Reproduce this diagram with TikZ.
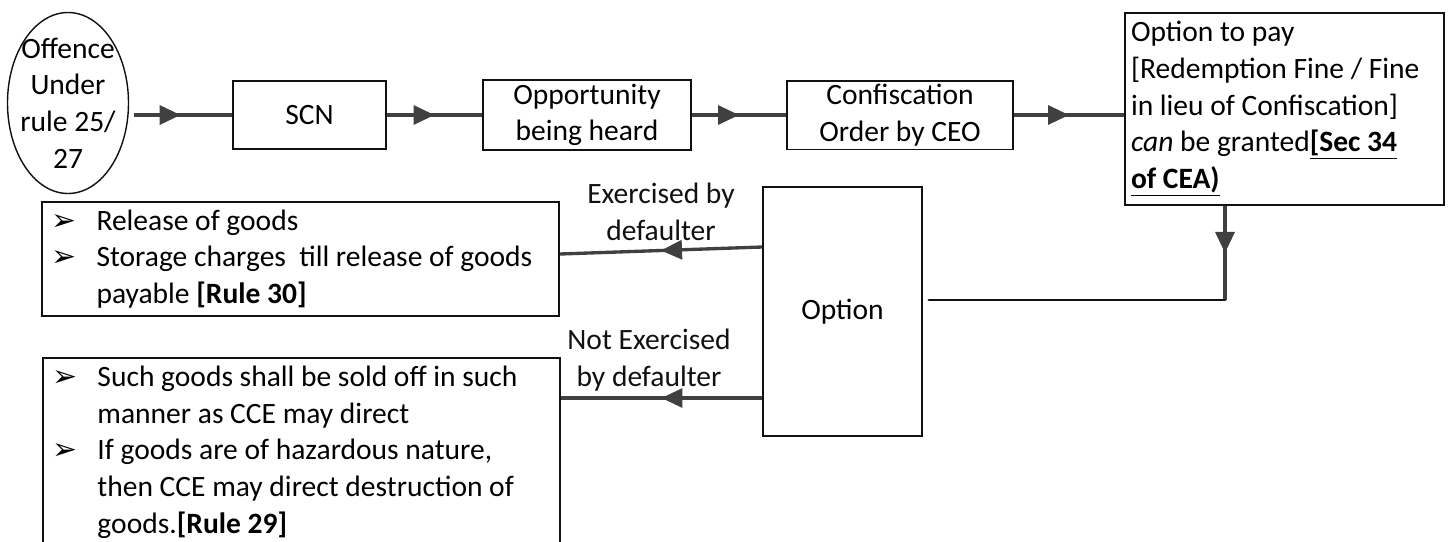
\documentclass[tikz,border=0pt]{standalone}
\usepackage{fontspec}
\setmainfont{Carlito}
\newfontfamily\dingfont{DejaVu Sans}
\usepackage{xcolor}
\usepackage{tikz}
\usetikzlibrary{positioning, arrows.meta, shapes.geometric, decorations.markings}
\definecolor{nInk}{HTML}{111111}
\definecolor{aFlow}{HTML}{404040}
\newcommand{\flowfont}{\fontsize{16.8}{20.9}\selectfont}
\newcommand{\arrowitem}[1]{\hangindent=0.9cm\hangafter=1\noindent
  \makebox[0.9cm][l]{{\dingfont\fontsize{17}{17}\selectfont ➢}}#1\par}
\newenvironment{notelist}{\begin{minipage}{9.96cm}\raggedright}{\end{minipage}}
\tikzset{
  stepbox/.style={draw=nInk, line width=1.1pt, minimum height=1.36cm, inner sep=2pt,
    font=\flowfont, align=center},
  cause/.style={draw=nInk, line width=0.8pt, ellipse, minimum width=2.42cm,
    minimum height=3.62cm, inner sep=0pt},
  notebox/.style={draw=nInk, line width=1.1pt, inner xsep=0.19cm,
    inner ysep=0.16cm, font=\flowfont},
  flowarrow/.style={color=aFlow, line width=1.9pt, postaction={decorate},
    decoration={markings, mark=at position 0.5 with {\arrow{Triangle[length=0.42cm, width=0.38cm]}}}},
  joinline/.style={draw=nInk, line width=1.7pt, line cap=round},
  choicelabel/.style={font=\flowfont, text=nInk, align=center, inner sep=0pt},
}

\begin{document}
\begin{tikzpicture}
  \useasboundingbox (0,0) rectangle (29.1,-10.82);
  \clip (0,0) rectangle (29.1,-10.82);
  % top row
  \node[cause] (offence) at (1.36,-2.06) {};
  \node[font=\flowfont, align=center, inner sep=0pt] (offencetxt) at (offence.center)
    {Offence\\Under\\rule 25/\\27};
  \node[stepbox, minimum width=3.06cm] (scn) at (6.19,-2.30) {SCN};
  \node[stepbox, minimum width=4.16cm] (hearing) at (11.74,-2.30) {Opportunity\\being heard};
  \node[stepbox, minimum width=4.52cm] (order) at (18.00,-2.30) {Confiscation\\Order by CEO};
  \node[stepbox, align=flush left, text width=6.14cm, inner xsep=0.12cm, inner ysep=0.16cm,
    minimum height=3.84cm] (redeem) at (25.69,-2.18)
    {Option to pay\\{[}Redemption Fine / Fine\\in lieu of Confiscation]\\
     \textit{can} be granted\textbf{\underline{[Sec 34}}\\\textbf{\underline{of CEA)}}};
  % choice and outcomes
  \node[stepbox, minimum width=3.18cm, minimum height=4.98cm] (option) at (16.85,-6.23) {Option};
  \node[notebox, minimum height=2.28cm, inner ysep=0.11cm] (released) at (6.01,-5.18)
    {\begin{notelist}
     \arrowitem{Release of goods}
     \arrowitem{Storage charges\ \ till release of goods\newline payable \textbf{[Rule 30]}}
     \end{notelist}};
  \node[notebox, anchor=north west] (disposal) at (0.84,-7.14)
    {\begin{notelist}
     \arrowitem{Such goods shall be sold off in such\newline manner as CCE may direct}
     \arrowitem{If goods are of hazardous nature,\newline then CCE may direct destruction of\newline
       goods.\textbf{[Rule 29]}}
     \end{notelist}};
  \coordinate (turn) at (24.5,-6.0);
  \coordinate (noex) at ([yshift=-1.73cm]option.west);
  % connectors
  \draw[flowarrow, shorten <=0.1cm] (offence.east |- scn.west) -- (scn.west);
  \draw[flowarrow] (scn.east) -- (hearing.west);
  \draw[flowarrow] (hearing.east) -- (order.west);
  \draw[flowarrow] (order.east) -- (redeem.west |- order.east);
  \draw[flowarrow] (redeem.south -| turn) -- (turn);
  \draw[joinline, shorten >=0.12cm] (turn) -- (option.east |- turn);
  \draw[flowarrow] ([yshift=1.29cm]option.west) -- node[choicelabel, above=0.16cm]
    {Exercised by\\defaulter} ([yshift=0.1cm]released.east);
  \draw[flowarrow] (noex) -- node[choicelabel, above=0.1cm, xshift=-0.25cm]
    {Not Exercised\\by defaulter} (noex -| disposal.east);
\end{tikzpicture}
\end{document}
